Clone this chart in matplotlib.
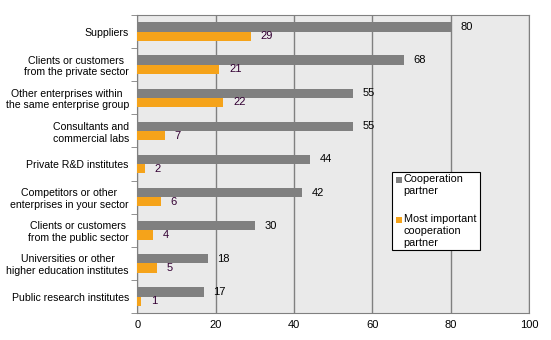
import numpy as np
import matplotlib.pyplot as plt
from matplotlib.patches import Rectangle

plt.rcParams['font.family'] = ['Liberation Sans', 'DejaVu Sans']

categories = [
    'Suppliers',
    'Clients or customers\nfrom the private sector',
    'Other enterprises within\nthe same enterprise group',
    'Consultants and\ncommercial labs',
    'Private R&D institutes',
    'Competitors or other\nenterprises in your sector',
    'Clients or customers\nfrom the public sector',
    'Universities or other\nhigher education institutes',
    'Public research institutes',
]
cooperation = [80, 68, 55, 55, 44, 42, 30, 18, 17]
most_important = [29, 21, 22, 7, 2, 6, 4, 5, 1]
series_names = ['Cooperation\npartner', 'Most important\ncooperation\npartner']

gray = '#808080'
orange = '#F5A31A'

fig = plt.figure(figsize=(5.51, 3.4), dpi=100)
ax = fig.add_axes([0.249, 0.079, 0.711, 0.877])
ax.set_facecolor('#EAEAEA')

y = np.arange(len(categories))
h = 0.28
b1 = ax.barh(y - h / 2, cooperation, height=h, color=gray, zorder=3)
b2 = ax.barh(y + h / 2, most_important, height=h, color=orange, zorder=3)

# value labels
ax.bar_label(b1, padding=7, fontsize=8, color='black')
ax.bar_label(b2, padding=7, fontsize=8, color='#330033')

ax.set_xlim(0, 100)
ax.set_ylim(len(categories) - 0.5, -0.5)
ax.set_xticks(range(0, 101, 20))
ax.xaxis.grid(True, color='#808080', linewidth=1, zorder=1)

ax.set_yticks(y)
ax.set_yticklabels(categories, fontsize=7.6, multialignment='center')
ax.tick_params(axis='y', length=0, pad=6)
ax.set_yticks(np.arange(-0.5, len(categories)), minor=True)
ax.tick_params(axis='y', which='minor', length=4, color='#808080')
ax.tick_params(axis='x', length=0, labelsize=8, pad=5)

for side in ['top', 'right', 'bottom', 'left']:
    ax.spines[side].set_color('#808080')

# legend box drawn by hand so the markers sit on the first text line
box = Rectangle((0.65, 0.211), 0.225, 0.262, transform=ax.transAxes,
                facecolor='white', edgecolor='black', linewidth=0.8, zorder=5)
ax.add_patch(box)
for name, col, ytop in zip(series_names, [gray, orange], [0.468, 0.334]):
    ax.add_patch(Rectangle((0.661, ytop - 0.033), 0.015, 0.02, transform=ax.transAxes,
                           facecolor=col, edgecolor='none', zorder=6))
    ax.text(0.68, ytop, name, transform=ax.transAxes, fontsize=7.8,
            va='top', ha='left', linespacing=1.3, zorder=6)

fig.savefig('out.png', dpi=100)
